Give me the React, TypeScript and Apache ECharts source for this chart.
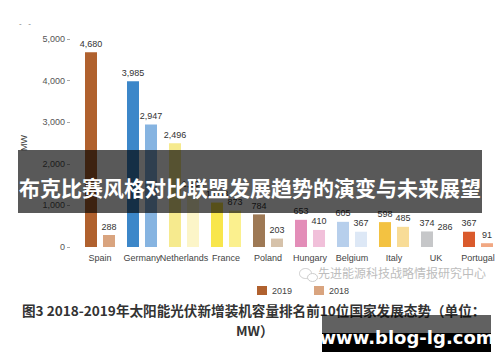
import React, { useEffect, useRef } from "react";
import * as echarts from "echarts";

const categories = ["Spain", "Germany", "Netherlands", "France", "Poland", "Hungary", "Belgium", "Italy", "UK", "Portugal"];
const values2019 = [4680, 3985, 2496, 1068, 784, 653, 605, 598, 374, 367];
const values2018 = [288, 2947, 1300, 873, 203, 410, 367, 485, 286, 91];
const colors2019 = ["#B0612E", "#3C87C9", "#F6EA8E", "#F8E64C", "#9E7955", "#E38DB8", "#B7CFEC", "#F3C241", "#C6C7C9", "#DA5A2C"];
const colors2018 = ["#D9A47F", "#86B4E1", "#FCF5C8", "#FBF08E", "#D6C2AA", "#F1C0DA", "#DDE8F6", "#F8DC97", "#FFFFFF", "#F1A883"];
const seriesNames = ["2019", "2018"];

const SANS = "'Liberation Sans', Arial, 'Noto Sans CJK SC', sans-serif";
const CJK = "'Noto Sans CJK SC', 'Liberation Sans', sans-serif";

const fmt = (v: number) => v.toLocaleString("en-US");

export default function App() {
  const ref = useRef<HTMLDivElement>(null);
  useEffect(() => {
    if (!ref.current) return;
    const chart = echarts.init(ref.current, undefined, { renderer: "svg" });
    const labelCfg = {
      show: true,
      position: "top" as const,
      distance: 4,
      fontSize: 9,
      color: "#333",
      fontFamily: SANS,
      formatter: (p: any) => fmt(p.value),
    };
    chart.setOption({
      animation: false,
      backgroundColor: "#ffffff",
      grid: { left: 79, right: 1, top: 39, bottom: 115, containLabel: false },
      legend: {
        left: 252,
        top: 281,
        itemWidth: 10,
        itemHeight: 9,
        itemGap: 22,
        icon: "rect",
        textStyle: { fontSize: 9, color: "#444", fontFamily: SANS },
        data: seriesNames,
      },
      xAxis: {
        type: "category",
        data: categories,
        axisLine: { show: false },
        axisTick: { show: false },
        axisLabel: { fontSize: 9, color: "#444", margin: 6, fontFamily: SANS, interval: 0 },
      },
      yAxis: {
        type: "value",
        min: 0,
        max: 5000,
        interval: 1000,
        offset: 9,
        name: "MW",
        nameLocation: "middle",
        nameGap: 42,
        nameTextStyle: { fontSize: 9, color: "#444", fontFamily: SANS },
        axisLine: { show: false },
        axisTick: { show: true, length: 3, lineStyle: { color: "#aaa" } },
        splitLine: { show: false },
        axisLabel: { fontSize: 9, color: "#555", margin: 5, fontFamily: SANS, formatter: (v: number) => fmt(v) },
      },
      series: [
        {
          name: seriesNames[0],
          type: "bar",
          barWidth: 12,
          barGap: "50%",
          itemStyle: { color: colors2019[0] },
          label: labelCfg,
          data: values2019.map((v, i) => ({ value: v, itemStyle: { color: colors2019[i] } })),
        },
        {
          name: seriesNames[1],
          type: "bar",
          barWidth: 12,
          itemStyle: { color: colors2018[0] },
          label: labelCfg,
          data: values2018.map((v, i) => ({ value: v, itemStyle: { color: colors2018[i] } })),
        },
      ],
      graphic: [
        {
          type: "text",
          left: 19,
          top: 19,
          style: { text: "-   -", fontSize: 8, fill: "#777", fontFamily: SANS },
        },
        {
          type: "group",
          left: 297,
          top: 266,
          children: [
            { type: "ellipse", shape: { cx: 6, cy: 6, rx: 6, ry: 5 }, style: { fill: "none", stroke: "#ccc", lineWidth: 1 } },
            { type: "ellipse", shape: { cx: 13, cy: 10, rx: 5, ry: 4 }, style: { fill: "#fff", stroke: "#ccc", lineWidth: 1 } },
          ],
        },
        {
          type: "text",
          left: 318,
          top: 266,
          style: { text: "先进能源科技战略情报研究中心", fontSize: 12, fill: "#bdbdbd", fontFamily: CJK },
        },
        {
          type: "text",
          left: 22,
          top: 303,
          style: {
            text: "图3 2018-2019年太阳能光伏新增装机容量排名前10位国家发展态势（单位：",
            fontSize: 13.6,
            fontWeight: "bold",
            fill: "#333",
            fontFamily: CJK,
          },
        },
        {
          type: "text",
          left: 236,
          top: 323,
          style: { text: "MW）", fontSize: 13.6, fontWeight: "bold", fill: "#333", fontFamily: CJK },
        },
        {
          type: "rect",
          z: 100,
          zlevel: 0,
          shape: { x: 18, y: 150, width: 464, height: 63 },
          style: { fill: "rgba(0,0,0,0.65)" },
        },
        {
          type: "text",
          z: 101,
          x: 250,
          y: 187,
          style: {
            text: "布克比赛风格对比联盟发展趋势的演变与未来展望",
            fontSize: 21,
            fontWeight: "bold",
            fill: "#ffffff",
            fontFamily: CJK,
            align: "center",
            verticalAlign: "middle",
          },
        },
        {
          type: "rect",
          z: 100,
          shape: { x: 322, y: 315, width: 169, height: 19 },
          style: { fill: "rgba(0,0,0,0.62)" },
        },
        {
          type: "rect",
          z: 100,
          shape: { x: 322, y: 333, width: 169, height: 19 },
          style: { fill: "#000000" },
        },
        {
          type: "text",
          z: 101,
          x: 407,
          y: 337,
          style: {
            text: "www.blog-lg.com",
            fontSize: 18,
            fontWeight: "bold",
            fill: "#ffffff",
            fontFamily: "'DejaVu Sans', 'Liberation Sans', sans-serif",
            align: "center",
            verticalAlign: "middle",
          },
        },
      ],
    });
    return () => chart.dispose();
  }, []);
  return <div ref={ref} style={{ position: "fixed", left: 0, top: 0, width: 500, height: 362 }} />;
}
